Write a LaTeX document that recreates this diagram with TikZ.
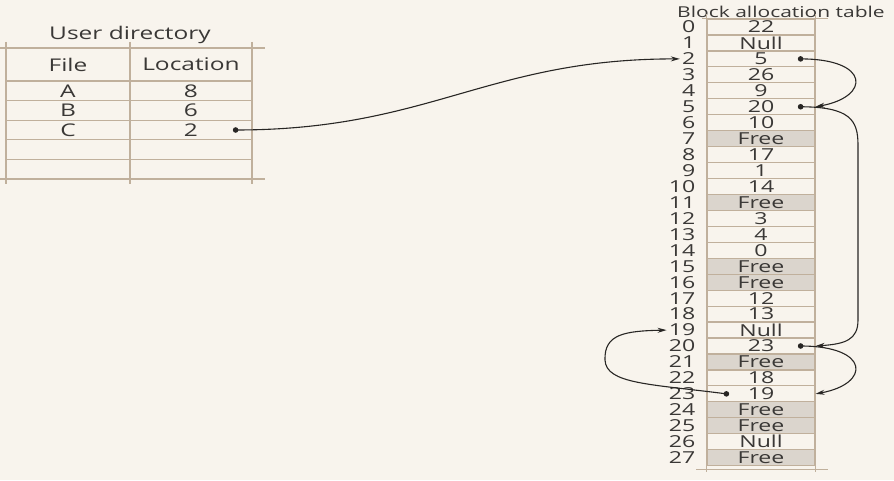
\documentclass[tikz,border=0pt]{standalone}
\usepackage{fontspec}
\setmainfont{Open Sans}[FakeStretch=1.4]
\usetikzlibrary{arrows.meta, positioning, calc}
\definecolor{paper}{RGB}{248,244,237}
\definecolor{rulebrown}{RGB}{192,176,156}
\definecolor{freegray}{RGB}{219,213,205}
\definecolor{inkgray}{RGB}{58,56,54}
\definecolor{linkblack}{RGB}{40,38,36}
\tikzset{
  cell/.style={draw=rulebrown, line width=1.2pt, minimum width=108pt,
    minimum height=15.95pt, inner sep=0pt, text=inkgray,
    font=\fontsize{16.5}{16.5}\selectfont},
  freecell/.style={cell, fill=freegray},
  ucell/.style={cell, minimum height=19.6pt, font=\fontsize{17.5}{17.5}\selectfont},
  idx/.style={inner sep=0pt, text=inkgray, font=\fontsize{16.5}{16.5}\selectfont},
  link/.style={line width=1.1pt, linkblack, -{Stealth[length=9pt,width=5pt]}},
}
\begin{document}
\begin{tikzpicture}[x=1pt,y=1pt]
  % Paper
  \fill[paper] (0,0) rectangle (894,480);
  \useasboundingbox (0,0) rectangle (894,480);
  % User directory
  \node[idx, font=\fontsize{17.5}{17.5}\selectfont] (udir) at (130,445) {User directory};
  \node[ucell, minimum width=124pt, minimum height=33pt] (hfile) at (68,415.5) {File};
  \node[ucell, minimum width=122pt, minimum height=33pt] (hloc) at (191,415.5) {Location};
  \foreach \f/\l [count=\i] in {A/8,B/6,C/2,{}/{},{}/{}} {
    \node[ucell, minimum width=124pt] (f\i) at (68,{389.2-19.6*(\i-1)}) {\f};
    \node[ucell, minimum width=122pt] (l\i) at (191,{389.2-19.6*(\i-1)}) {\l};
  }
  % overshooting rules
  \draw[rulebrown, line width=1.3pt] (0,432) -- (265,432) (0,301) -- (265,301);
  \foreach \x in {6,130,252}
    \draw[rulebrown, line width=1.3pt] (\x,438) -- (\x,296);
  % Block allocation table
  \node[idx, font=\fontsize{15}{15}\selectfont] (btitle) at (781,468) {Block allocation table};
  \foreach \v/\s [count=\i from 0] in {22/cell,Null/cell,5/cell,26/cell,9/cell,
      20/cell,10/cell,Free/freecell,17/cell,1/cell,14/cell,Free/freecell,3/cell,
      4/cell,0/cell,Free/freecell,Free/freecell,12/cell,13/cell,Null/cell,
      23/cell,Free/freecell,18/cell,19/cell,Free/freecell,Free/freecell,
      Null/cell,Free/freecell} {
    \node[\s] (b\i) at (761,{453-15.95*\i}) {\v};
    \node[idx, left=11pt of b\i] (i\i) {\i};
  }
  \draw[rulebrown, line width=1.2pt]
    ($(b0.north west)+(0,4)$) -- ($(b27.south west)+(0,-6)$)
    ($(b0.north east)+(0,4)$) -- ($(b27.south east)+(0,-6)$)
    ($(b0.north west)+(-4,0)$) -- ($(b0.north east)+(12,0)$)
    ($(b27.south west)+(-10,-3)$) -- ($(b27.south east)+(12,-3)$);
  % Dots
  \coordinate (dC) at ($(l3.east)+(-17,0)$);
  \coordinate (d2) at ($(b2.east)+(-15,0)$);
  \coordinate (d5) at ($(b5.east)+(-15,0)$);
  \coordinate (d20) at ($(b20.east)+(-15,0)$);
  \coordinate (d23) at ($(b23.west)+(20,0)$);
  \foreach \d in {dC,d2,d5,d20,d23}
    \fill[linkblack] (\d) circle (2.8pt);
  % Chain C: 2 -> 5 -> 20 -> 23 -> 19
  \draw[link, shorten >=2pt] (dC) to[out=0,in=180,looseness=1.1] (i2.west);
  \draw[link] (d2) .. controls +(70,0) and +(55,10) .. (b5.east);
  \draw[link] (d5) .. controls (850,373) and (858,360) .. (858,335)
    -- (858,160) .. controls (858,140) and (845,136) .. (b20.east);
  \draw[link] (d20) .. controls +(70,0) and +(55,10) .. (b23.east);
  \draw[link, shorten >=2pt] (d23) .. controls (650,96) and (606,96) .. (605,120)
    .. controls (604,146) and (625,149) .. (i19.west);
\end{tikzpicture}
\end{document}
